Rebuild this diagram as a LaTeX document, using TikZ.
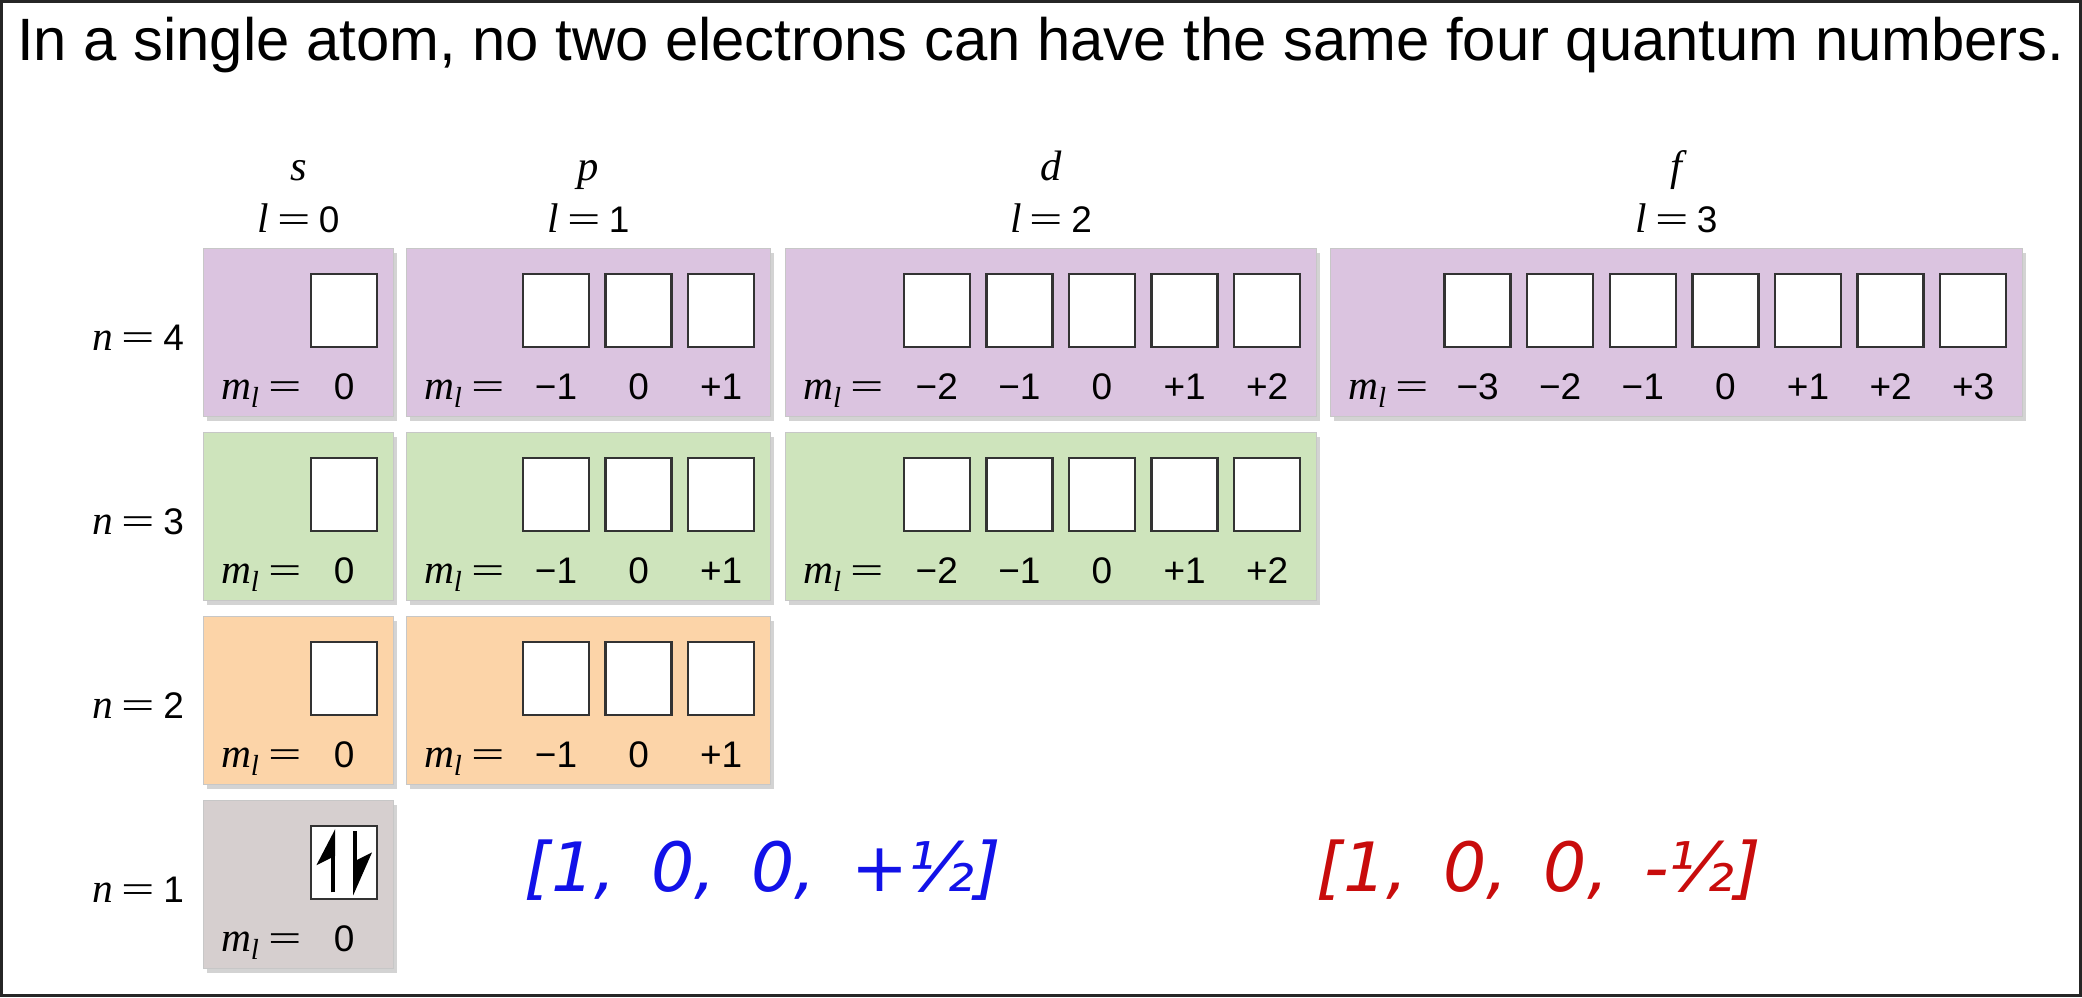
\documentclass[tikz,border=0pt]{standalone}
\usepackage{fontspec}
\usepackage{graphicx}
\setmainfont{Liberation Sans}
\newfontfamily\tms{Liberation Serif}
\newfontfamily\hand{DejaVu Sans}
\usetikzlibrary{arrows.meta,positioning,calc,shadows}

\definecolor{shellpurple}{RGB}{219,196,224}
\definecolor{shellgreen}{RGB}{206,228,188}
\definecolor{shellorange}{RGB}{252,212,168}
\definecolor{shellgray}{RGB}{214,207,207}
\definecolor{penblue}{RGB}{18,18,232}
\definecolor{penred}{RGB}{200,12,12}

\newcommand{\vi}[1]{\scalebox{1.12}{\tms\itshape #1}}
\newcommand{\eq}{\hspace{0.22em}\scalebox{1.6}[1.05]{\tms =}\hspace{0.22em}}
\newcommand{\gap}{\hspace{0.52em}}

\begin{document}
\begin{tikzpicture}[x=0.5pt, y=0.5pt,
    font=\fontsize{18.5}{21}\selectfont,
    shell/.style={draw=black!22, line width=0.6pt, anchor=north west,
      minimum height=84pt, inner sep=0pt,
      drop shadow={shadow xshift=1.5pt, shadow yshift=-2pt, opacity=.35}},
    orb/.style={draw=black!80, line width=1.2pt, fill=white, anchor=north,
      minimum width=33pt, minimum height=36.5pt, inner sep=0pt},
    spin/.style={line width=2pt, -{Stealth[left, length=#1, width=16.5pt, inset=4pt]}},
    spin/.default=16pt,
    pen/.style={font=\hand\itshape\fontsize{34}{38}\selectfont}
  ]
    \useasboundingbox (0,0) rectangle (2082,-997);
    \draw[line width=1.5pt, black!85] (1.5,-1.5) rectangle (2080.5,-995.5);
    \node[anchor=base west, font=\fontsize{29.9}{34}\selectfont] (title) at (10,-60)
      {In a single atom, no two electrons can have the same four quantum numbers.};

    % shells, one row per n
    \node[shell, fill=shellpurple, minimum width=95pt] (s4) at (203,-248) {};
    \node[shell, fill=shellpurple, minimum width=182pt] (p4) at (406,-248) {};
    \node[shell, fill=shellpurple, minimum width=265.5pt] (d4) at (785,-248) {};
    \node[shell, fill=shellpurple, minimum width=346pt] (f4) at (1330,-248) {};
    \node[shell, fill=shellgreen, minimum width=95pt] (s3) at (203,-432) {};
    \node[shell, fill=shellgreen, minimum width=182pt] (p3) at (406,-432) {};
    \node[shell, fill=shellgreen, minimum width=265.5pt] (d3) at (785,-432) {};
    \node[shell, fill=shellorange, minimum width=95pt] (s2) at (203,-616) {};
    \node[shell, fill=shellorange, minimum width=182pt] (p2) at (406,-616) {};
    \node[shell, fill=shellgray, minimum width=95pt] (s1) at (203,-800) {};

    % orbitals and m_l values
    \foreach \sh/\n in {s4/1,p4/3,d4/5,f4/7,s3/1,p3/3,d3/5,s2/1,p2/3,s1/1}{
      \node[anchor=base west] (\sh-ml) at ([shift={(11,18)}]\sh.south west)
        {\vi{m}\textsubscript{\vi{l}}\eq};
      \foreach \k in {1,...,\n}{
        \pgfmathtruncatemacro\mv{\k-(\n+1)/2}
        \node[orb] (\sh-\k) at ([shift={({-50-(\n-\k)*82.6},-25)}]\sh.north east) {};
        \path (\sh-\k.south |- \sh.south) ++(0,18) node[anchor=base] (\sh-\k-v)
          {\ifnum\mv>0 +\mv\else\ifnum\mv<0 −\the\numexpr-\mv\relax\else 0\fi\fi};
      }
    }

    % subshell headings
    \node[anchor=base] (ls) at ([yshift=8pt]s4.north) {\vi{l}\eq 0};
    \node[anchor=base] (lp) at ([yshift=8pt]p4.north) {\vi{l}\eq 1};
    \node[anchor=base] (ld) at ([yshift=8pt]d4.north) {\vi{l}\eq 2};
    \node[anchor=base] (lf) at ([yshift=8pt]f4.north) {\vi{l}\eq 3};
    \node[anchor=base, font=\fontsize{19}{24}\selectfont] (hs) at ([yshift=34pt]s4.north) {\vi{s}};
    \node[anchor=base, font=\fontsize{19}{24}\selectfont] (hp) at ([yshift=34pt]p4.north) {\vi{p}};
    \node[anchor=base, font=\fontsize{19}{24}\selectfont] (hd) at ([yshift=34pt]d4.north) {\vi{d}};
    \node[anchor=base, font=\fontsize{19}{24}\selectfont] (hf) at ([yshift=34pt]f4.north) {\vi{f}};

    % shell numbers
    \node[anchor=base east] (n4) at ([shift={(-12,-18)}]s4.west) {\vi{n}\eq 4};
    \node[anchor=base east] (n3) at ([shift={(-12,-18)}]s3.west) {\vi{n}\eq 3};
    \node[anchor=base east] (n2) at ([shift={(-12,-18)}]s2.west) {\vi{n}\eq 2};
    \node[anchor=base east] (n1) at ([shift={(-12,-18)}]s1.west) {\vi{n}\eq 1};

    % the two 1s electrons
    \coordinate (up0) at ([shift={(-11,8)}]s1-1.south);
    \coordinate (up1) at ([shift={(-11,-4)}]s1-1.north);
    \coordinate (dn0) at ([shift={(11,-6)}]s1-1.north);
    \coordinate (dn1) at ([shift={(11,5)}]s1-1.south);
    \draw[spin] (up0) -- (up1);
    \draw[spin=19pt] (dn0) -- (dn1);

    \node[pen, text=penblue] (qup) at (763,-870) {[1,\gap 0,\gap 0,\gap +½]};
    \node[pen, text=penred] (qdn) at (1539,-870) {[1,\gap 0,\gap 0,\gap -½]};
\end{tikzpicture}
\end{document}
